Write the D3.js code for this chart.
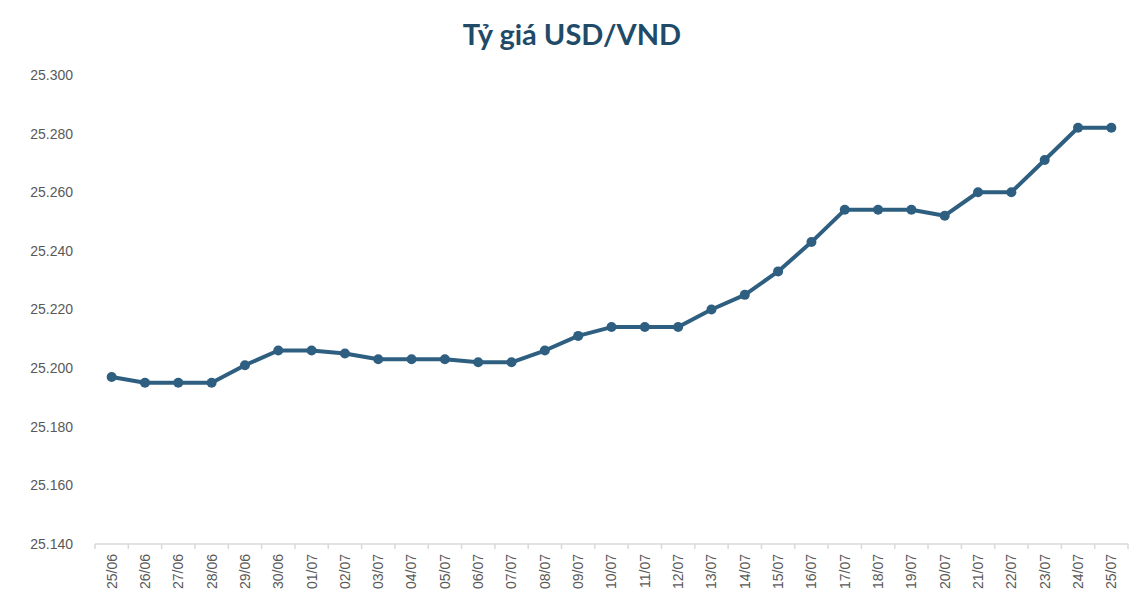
<!DOCTYPE html>
<html>
<head>
<meta charset="utf-8">
<script src="https://cdn.jsdelivr.net/npm/d3@7"></script>
<style>
  body { margin: 0; background: #fff; }
  svg { display: block; }
</style>
</head>
<body>
<svg width="1140" height="616"></svg>
<script>
var dates = ["25/06","26/06","27/06","28/06","29/06","30/06","01/07","02/07","03/07","04/07",
             "05/07","06/07","07/07","08/07","09/07","10/07","11/07","12/07","13/07","14/07",
             "15/07","16/07","17/07","18/07","19/07","20/07","21/07","22/07","23/07","24/07","25/07"];
var rates = [25197,25195,25195,25195,25201,25206,25206,25205,25203,25203,
             25203,25202,25202,25206,25211,25214,25214,25214,25220,25225,
             25233,25243,25254,25254,25254,25252,25260,25260,25271,25282,25282];
var yTicks = [25140,25160,25180,25200,25220,25240,25260,25280,25300];

var svg = d3.select('svg');
var margin = {left: 95, right: 12, top: 75, bottom: 72};
var width = +svg.attr('width');
var height = +svg.attr('height');
var lineColor = '#2e5f80';

var x = d3.scaleBand().domain(dates).range([margin.left, width - margin.right]);
var y = d3.scaleLinear().domain([25140, 25300]).range([height - margin.bottom, margin.top]);

// title
svg.append('text')
    .attr('x', 572).attr('y', 45)
    .attr('text-anchor', 'middle')
    .style('font-family', 'Lato, "Open Sans", sans-serif')
    .style('font-weight', 'bold')
    .style('font-size', '29px')
    .style('fill', '#1f4b68')
    .text('Tỷ giá USD/VND');

// y labels (no axis line, no gridlines)
svg.append('g').selectAll('text')
    .data(yTicks)
    .enter().append('text')
    .attr('x', 73)
    .attr('y', function(d) { return y(d); })
    .attr('dy', '0.35em')
    .attr('text-anchor', 'end')
    .style('font-family', '"Liberation Sans", Arial, sans-serif')
    .style('font-size', '14px')
    .style('fill', '#595959')
    .text(function(d) { return d3.format(',')(d).replace(',', '.'); });

// x axis: line + ticks at category boundaries
var xAxisG = svg.append('g').attr('transform', 'translate(0,' + y(25140) + ')');
xAxisG.append('line')
    .attr('x1', x.range()[0]).attr('x2', x.range()[1])
    .attr('stroke', '#d9d9d9').attr('stroke-width', 1.5);
var bounds = dates.map(function(d) { return x(d); }).concat([x.range()[1]]);
xAxisG.selectAll('.tick')
    .data(bounds)
    .enter().append('line')
    .attr('class', 'tick')
    .attr('x1', function(d) { return d; }).attr('x2', function(d) { return d; })
    .attr('y1', 0).attr('y2', 5)
    .attr('stroke', '#d9d9d9').attr('stroke-width', 1.5);
xAxisG.selectAll('.lbl')
    .data(dates)
    .enter().append('text')
    .attr('class', 'lbl')
    .attr('transform', function(d) {
      return 'translate(' + (x(d) + x.bandwidth() / 2) + ',10) rotate(-90)';
    })
    .attr('dy', '0.35em')
    .attr('text-anchor', 'end')
    .style('font-family', '"Liberation Sans", Arial, sans-serif')
    .style('font-size', '14px')
    .style('fill', '#595959')
    .text(function(d) { return d; });

// line + markers
var line = d3.line()
    .x(function(d, i) { return x(dates[i]) + x.bandwidth() / 2; })
    .y(function(d) { return y(d); });

svg.append('path')
    .datum(rates)
    .attr('d', line)
    .attr('fill', 'none')
    .attr('stroke', lineColor)
    .attr('stroke-width', 4)
    .attr('stroke-linejoin', 'round');

svg.append('g').selectAll('circle')
    .data(rates)
    .enter().append('circle')
    .attr('cx', function(d, i) { return x(dates[i]) + x.bandwidth() / 2; })
    .attr('cy', function(d) { return y(d); })
    .attr('r', 5)
    .attr('fill', lineColor);
</script>
</body>
</html>
